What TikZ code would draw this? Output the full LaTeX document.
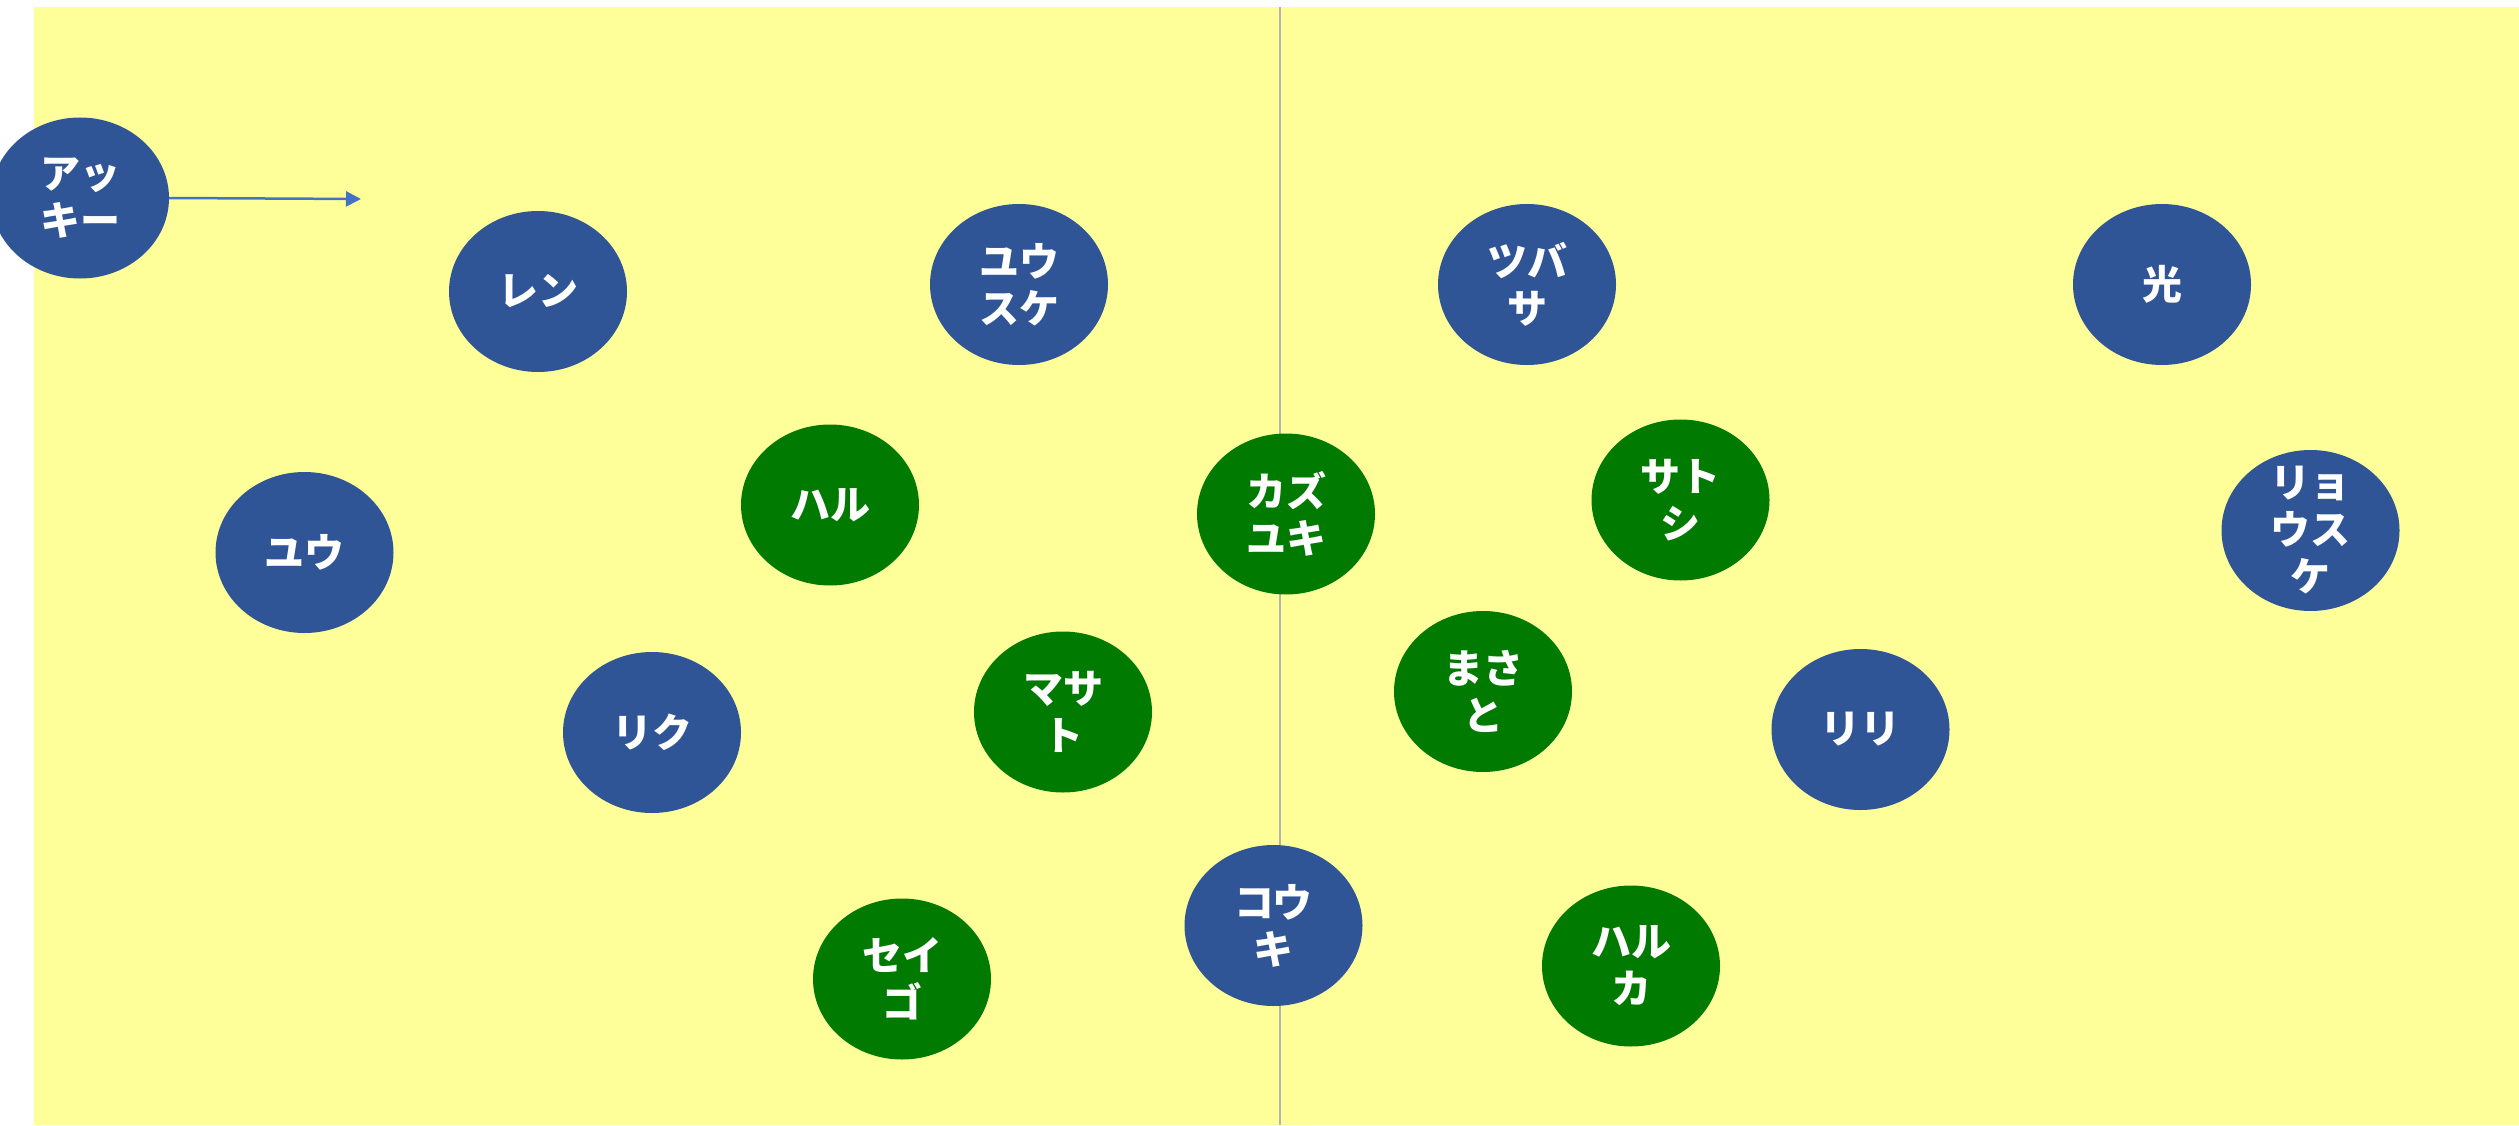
\documentclass[tikz,border=0pt]{standalone}
\usepackage{fontspec}
\newfontfamily\jpfont{Noto Sans CJK JP}
\usetikzlibrary{arrows.meta,shapes.geometric}
\definecolor{bgyellow}{HTML}{FFFF99}
\definecolor{pblue}{HTML}{2F5597}
\definecolor{pgreen}{HTML}{007A00}
\definecolor{arrowblue}{HTML}{4472C4}
\definecolor{divider}{HTML}{B4B4B4}
\tikzset{
  person/.style={ellipse, minimum width=178pt, minimum height=161pt, inner sep=0pt},
  bluenode/.style={person, fill=pblue},
  greennode/.style={person, fill=pgreen},
  lbl/.style={text=white, align=center, inner sep=0pt,
    font=\jpfont\bfseries\fontsize{40}{47}\selectfont},
  divline/.style={draw=divider, line width=1.5pt},
  link/.style={draw=arrowblue, line width=2.5pt, -{Triangle[length=15pt,width=15pt]}},
}
\begin{document}
\begin{tikzpicture}[x=1pt,y=-1pt]
\useasboundingbox (0,0) rectangle (2519,1126);
\fill[white] (0,0) rectangle (2519,1126);
\fill[bgyellow] (34,7) rectangle (2519,1125);
\coordinate (dtop) at (1280,7);
\coordinate (dbot) at (1280,1125);
\draw[divline] (dtop) -- (dbot);

\node[bluenode] (akki) at (80,198) {};
\node[lbl] at (akki) {アッ\\キー};
\node[bluenode] (ren) at (538,291.5) {};
\node[lbl] at (ren) {レン};
\node[bluenode] (yusuke) at (1019,284.5) {};
\node[lbl] at (yusuke) {ユウ\\スケ};
\node[bluenode] (tsubasa) at (1527,284.5) {};
\node[lbl] at (tsubasa) {ツバ\\サ};
\node[bluenode] (hikaru) at (2162,284.5) {};
\node[lbl] at (hikaru) {光};
\node[bluenode] (yu) at (304.5,552.5) {};
\node[lbl] at (yu) {ユウ};
\node[greennode] (haru) at (830,505) {};
\node[lbl] at (haru) {ハル};
\node[greennode] (kazuyuki) at (1286,514) {};
\node[lbl] at (kazuyuki) {カズ\\ユキ};
\node[greennode] (satoshi) at (1680.5,500) {};
\node[lbl] at (satoshi) {サト\\シ};
\node[bluenode] (ryosuke) at (2310.5,530.5) {};
\node[lbl] at (ryosuke) {リョ\\ウス\\ケ};
\node[bluenode] (riku) at (652,732.5) {};
\node[lbl] at (riku) {リク};
\node[greennode] (masato) at (1063,712) {};
\node[lbl] at (masato) {マサ\\ト};
\node[greennode] (masatoh) at (1483,691.5) {};
\node[lbl] at (masatoh) {まさ\\と};
\node[bluenode] (riri) at (1860.5,729.5) {};
\node[lbl] at (riri) {リリ};
\node[greennode] (seigo) at (902,979) {};
\node[lbl] at (seigo) {セイ\\ゴ};
\node[bluenode] (kouki) at (1273.5,925.5) {};
\node[lbl] at (kouki) {コウ\\キ};
\node[greennode] (haruka) at (1631,966) {};
\node[lbl] at (haruka) {ハル\\カ};

\coordinate (arrowend) at (361,199);
\draw[link] (akki.east) -- (arrowend);
\end{tikzpicture}
\end{document}
